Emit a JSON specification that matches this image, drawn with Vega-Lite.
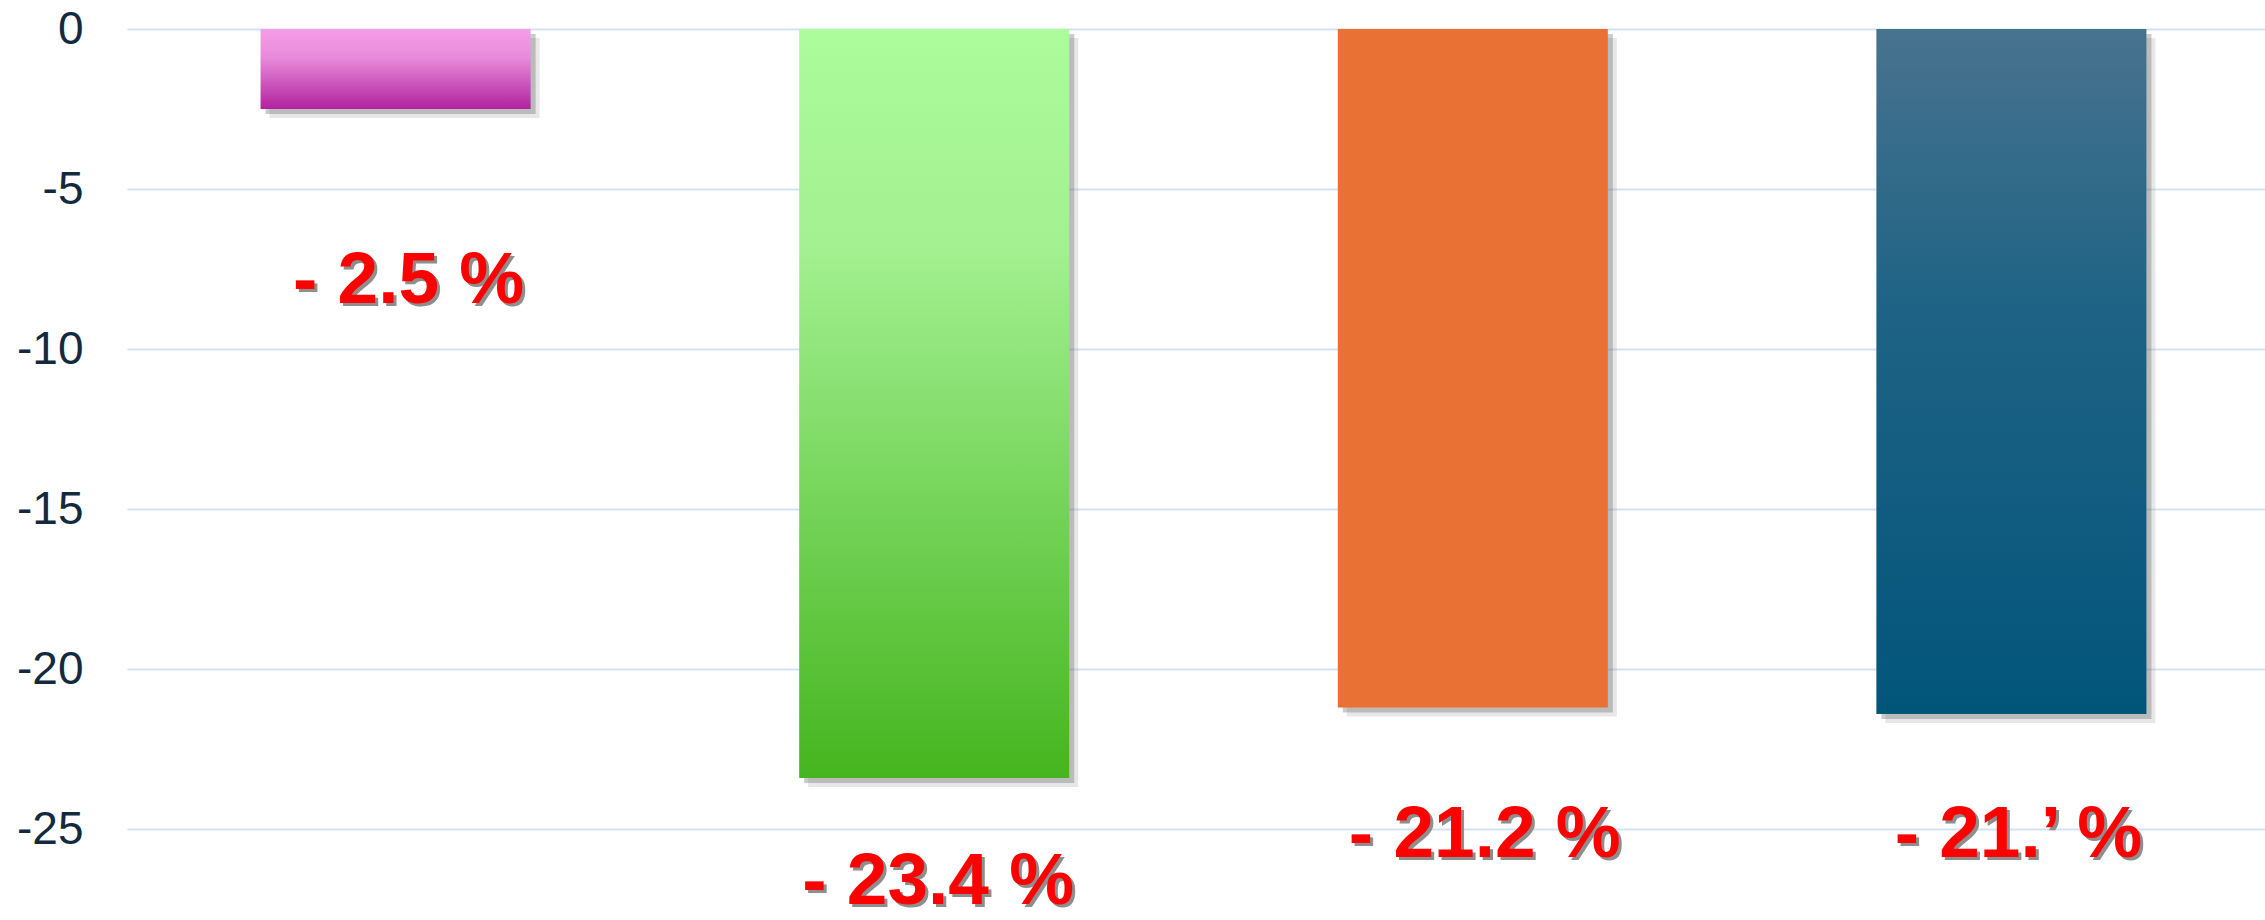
{
  "$schema": "https://vega.github.io/schema/vega-lite/v6.json",
  "autosize": "none",
  "width": 2138,
  "height": 891,
  "padding": {"left": 127, "top": 29, "right": 0, "bottom": 0},
  "background": "white",
  "config": {"view": {"stroke": null}},
  "data": {"values": [
    {"cat": "1", "value": -2.5, "label": "- 2.5 %"},
    {"cat": "2", "value": -23.4, "label": "- 23.4 %"},
    {"cat": "3", "value": -21.2, "label": "- 21.2 %"},
    {"cat": "4", "value": -21.4, "label": "- 21.’ %"}
  ]},
  "encoding": {
    "x": {"field": "cat", "type": "nominal", "axis": null,
          "scale": {"range": [0, 2153], "paddingInner": 0.4986, "paddingOuter": 0.248}},
    "y": {"field": "value", "type": "quantitative",
          "scale": {"domain": [-27.84, 0], "nice": false, "zero": false},
          "axis": {"title": null, "values": [0, -5, -10, -15, -20, -25], "grid": true, "gridColor": "#D3E2F3", "gridWidth": 2,
                   "domain": false, "ticks": false, "labelPadding": 44, "labelFont": "Liberation Sans", "labelFontSize": 46,
                   "labelColor": "#13293D", "labelExpr": "replace(datum.label, '\u2212', '-')"}}
  },
  "layer": [
    {"transform": [{"filter": "datum.cat === '1'"}], "layer": [
      {"mark": {"type": "bar", "color": "#7a7a7a", "opacity": 0.18, "xOffset": 9, "x2Offset": 9, "yOffset": 9, "y2Offset": 9}},
      {"mark": {"type": "bar", "color": "#6a6a6a", "opacity": 0.35, "xOffset": 5, "x2Offset": 5, "yOffset": 5, "y2Offset": 5}},
      {"mark": {"type": "bar", "color": {"gradient": "linear", "x1": 0, "y1": 0, "x2": 0, "y2": 1,
        "stops": [{"offset": 0, "color": "#F39EE7"}, {"offset": 0.35, "color": "#E88CDA"}, {"offset": 1, "color": "#B1229F"}]}}},
      {"mark": {"type": "text", "font": "Liberation Sans", "fontWeight": "bold", "fontSize": 73, "color": "#8E8E8E", "baseline": "middle", "dx": 16, "dy": 175}, "encoding": {"text": {"field": "label"}}},
      {"mark": {"type": "text", "font": "Liberation Sans", "fontWeight": "bold", "fontSize": 73, "color": "#FF0000", "baseline": "middle", "dx": 13, "dy": 172}, "encoding": {"text": {"field": "label"}}}
    ]},
    {"transform": [{"filter": "datum.cat === '2'"}], "layer": [
      {"mark": {"type": "bar", "color": "#7a7a7a", "opacity": 0.18, "xOffset": 9, "x2Offset": 9, "yOffset": 9, "y2Offset": 9}},
      {"mark": {"type": "bar", "color": "#6a6a6a", "opacity": 0.35, "xOffset": 5, "x2Offset": 5, "yOffset": 5, "y2Offset": 5}},
      {"mark": {"type": "bar", "color": {"gradient": "linear", "x1": 0, "y1": 0, "x2": 0, "y2": 1,
        "stops": [{"offset": 0, "color": "#ACFC9C"}, {"offset": 0.3, "color": "#A2F090"}, {"offset": 1, "color": "#45B51E"}]}}},
      {"mark": {"type": "text", "font": "Liberation Sans", "fontWeight": "bold", "fontSize": 73, "color": "#8E8E8E", "baseline": "middle", "dx": 7, "dy": 107}, "encoding": {"text": {"field": "label"}}},
      {"mark": {"type": "text", "font": "Liberation Sans", "fontWeight": "bold", "fontSize": 73, "color": "#FF0000", "baseline": "middle", "dx": 4, "dy": 104}, "encoding": {"text": {"field": "label"}}}
    ]},
    {"transform": [{"filter": "datum.cat === '3'"}], "layer": [
      {"mark": {"type": "bar", "color": "#7a7a7a", "opacity": 0.18, "xOffset": 9, "x2Offset": 9, "yOffset": 9, "y2Offset": 9}},
      {"mark": {"type": "bar", "color": "#6a6a6a", "opacity": 0.35, "xOffset": 5, "x2Offset": 5, "yOffset": 5, "y2Offset": 5}},
      {"mark": {"type": "bar", "color": "#E87133"}},
      {"mark": {"type": "text", "font": "Liberation Sans", "fontWeight": "bold", "fontSize": 73, "color": "#8E8E8E", "baseline": "middle", "dx": 15, "dy": 131}, "encoding": {"text": {"field": "label"}}},
      {"mark": {"type": "text", "font": "Liberation Sans", "fontWeight": "bold", "fontSize": 73, "color": "#FF0000", "baseline": "middle", "dx": 12, "dy": 128}, "encoding": {"text": {"field": "label"}}}
    ]},
    {"transform": [{"filter": "datum.cat === '4'"}], "layer": [
      {"mark": {"type": "bar", "color": "#7a7a7a", "opacity": 0.18, "xOffset": 9, "x2Offset": 9, "yOffset": 9, "y2Offset": 9}},
      {"mark": {"type": "bar", "color": "#6a6a6a", "opacity": 0.35, "xOffset": 5, "x2Offset": 5, "yOffset": 5, "y2Offset": 5}},
      {"mark": {"type": "bar", "color": {"gradient": "linear", "x1": 0, "y1": 0, "x2": 0, "y2": 1,
        "stops": [{"offset": 0, "color": "#48738F"}, {"offset": 0.4, "color": "#1F6385"}, {"offset": 1, "color": "#02557A"}]}}},
      {"mark": {"type": "text", "font": "Liberation Sans", "fontWeight": "bold", "fontSize": 73, "color": "#8E8E8E", "baseline": "middle", "dx": 10, "dy": 124}, "encoding": {"text": {"field": "label"}}},
      {"mark": {"type": "text", "font": "Liberation Sans", "fontWeight": "bold", "fontSize": 73, "color": "#FF0000", "baseline": "middle", "dx": 7, "dy": 121}, "encoding": {"text": {"field": "label"}}}
    ]}
  ]
}
